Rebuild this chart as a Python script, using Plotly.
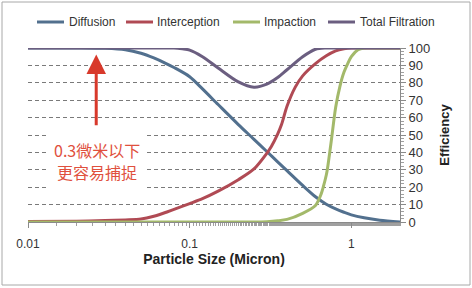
import plotly.graph_objects as go

# Particle size (micron)
size_d = [0.01, 0.02, 0.03, 0.04, 0.05, 0.06, 0.07, 0.08, 0.1, 0.12, 0.15, 0.2, 0.25, 0.3,
          0.35, 0.4, 0.5, 0.6, 0.7, 0.8, 0.9, 1.0, 1.2, 1.5, 2.0]
diffusion = [100, 100, 99.8, 99, 97, 94.3, 91.5, 88.8, 83.5, 76.5, 67.5, 56, 47.5, 40.5,
             34.6, 29.5, 21, 14.5, 10.2, 7.5, 5.6, 4.1, 2.4, 1.0, 0]

size_i = [0.01, 0.02, 0.03, 0.04, 0.05, 0.06, 0.07, 0.08, 0.1, 0.12, 0.15, 0.2, 0.25, 0.3,
          0.32, 0.35, 0.37, 0.4, 0.45, 0.5, 0.6, 0.7, 0.8, 0.9, 1.0, 1.2, 1.5, 2.0]
interception = [0.3, 0.5, 0.8, 1.2, 1.7, 3.3, 5.3, 7.3, 10.6, 13.4, 17.7, 24.3, 30.5, 39.5,
                43.4, 50.5, 56, 66.5, 77.5, 84, 91, 95.5, 98.3, 99.5, 100, 100, 100, 100]

size_m = [0.01, 0.05, 0.1, 0.2, 0.25, 0.3, 0.35, 0.4, 0.5, 0.6, 0.65, 0.67, 0.7, 0.71, 0.75,
          0.8, 0.85, 0.9, 0.95, 1.0, 1.1, 1.2, 1.5, 2.0]
impaction = [0, 0, 0, 0, 0, 0.2, 0.7, 1.5, 5, 9.5, 16, 20, 27, 30, 46,
             66, 78, 86, 91, 95, 99, 100, 100, 100]

size_t = [0.01, 0.02, 0.04, 0.06, 0.08, 0.09, 0.1, 0.12, 0.15, 0.2, 0.25, 0.3, 0.35, 0.4,
          0.5, 0.6, 0.7, 0.8, 1.0, 1.5, 2.0]
total = [100, 100, 100, 100, 100, 99.5, 98.8, 95, 88.5, 80.5, 77.5, 79.2, 83, 87.5,
         95, 99.3, 100, 100, 100, 100, 100]

y_ticks = [0, 10, 20, 30, 40, 50, 60, 70, 80, 90, 100]
x_ticks = [0.01, 0.1, 1]
x_ticklabels = ["0.01", "0.1", "1"]
note_lines = ["0.3微米以下", "更容易捕捉"]

series = [
    ("Diffusion", size_d, diffusion, "#52708e"),
    ("Interception", size_i, interception, "#b04a54"),
    ("Impaction", size_m, impaction, "#a3b96a"),
    ("Total Filtration", size_t, total, "#6b5e80"),
]

# layout geometry (pixels)
W, H = 472, 288
ML, MR, MT, MB = 28, 72, 48, 66
PW, PH = W - ML - MR, H - MT - MB


def px(x):
    return (x - ML) / PW


def py(y):
    return (H - MB - y) / PH


fig = go.Figure()
for name, xs, ys, col in series:
    fig.add_trace(go.Scatter(x=xs, y=ys, name=name, mode="lines", showlegend=False,
                             line=dict(color=col, width=3, shape="spline", smoothing=0.8)))

fig.update_layout(
    width=W, height=H,
    margin=dict(l=ML, r=MR, t=MT, b=MB, autoexpand=False),
    paper_bgcolor="white", plot_bgcolor="white",
    font=dict(family="Liberation Sans, Arial, sans-serif", size=12, color="#333333"),
    showlegend=False,
)

fig.update_xaxes(
    type="log", range=[-2, 0.301],
    tickvals=x_ticks, ticktext=x_ticklabels,
    showgrid=False, zeroline=False,
    showline=True, linecolor="#8a8a8a", linewidth=1,
    ticks="outside", ticklen=5, tickcolor="#8a8a8a",
    minor=dict(ticks="outside", ticklen=3, tickcolor="#a0a0a0", showgrid=False),
    tickfont=dict(size=12, color="#333333"),
    ticklabelstandoff=6,
    title=dict(text="<b>Particle Size (Micron)</b>", font=dict(size=14, color="#222222"), standoff=2),
)

fig.update_yaxes(
    range=[0, 100], side="right",
    tickvals=y_ticks,
    showgrid=True, gridcolor="#7a7a7a", griddash="4px,3px", gridwidth=1,
    zeroline=False,
    showline=True, linecolor="#8a8a8a", linewidth=1,
    ticks="outside", ticklen=5, tickcolor="#8a8a8a",
    minor=dict(ticks="outside", ticklen=3, dtick=2, tickcolor="#a0a0a0", showgrid=False),
    tickfont=dict(size=13, color="#333333"),
    title=dict(text="<b>Efficiency</b>", font=dict(size=13, color="#222222"), standoff=10),
)

# legend (drawn at top)
legend_pos = [(37, 67), (126, 155), (233, 262), (328, 358)]
for (name, _, _, col), (lx, tx) in zip(series, legend_pos):
    fig.add_shape(type="line", xref="paper", yref="paper",
                  x0=px(lx), x1=px(lx + 27), y0=py(22), y1=py(22),
                  line=dict(color=col, width=3))
    fig.add_annotation(x=px(tx), y=py(22), xref="paper", yref="paper",
                       text=name, showarrow=False, xanchor="left", yanchor="middle",
                       font=dict(size=12, color="#333333"))

# white box behind the note
fig.add_shape(type="rect", xref="paper", yref="paper",
              x0=px(46), x1=px(147), y0=py(194), y1=py(128),
              fillcolor="white", line=dict(width=0), layer="above")

# red arrow
fig.add_annotation(
    x=-1.578, y=96.3, xref="x", yref="y",
    ax=-1.578, ay=54.8, axref="x", ayref="y",
    showarrow=True, arrowhead=2, arrowsize=1.3, arrowwidth=3,
    arrowcolor="#d8392b", text="",
)
# red note text, two lines
for line, ypix in zip(note_lines, [150, 172]):
    fig.add_annotation(
        x=px(97), y=py(ypix), xref="paper", yref="paper",
        text=line, showarrow=False, xanchor="center", yanchor="middle",
        font=dict(family="Noto Sans CJK SC", size=16, color="#e0503d"),
    )

# outer border
fig.add_shape(type="rect", xref="paper", yref="paper",
              x0=px(2), x1=px(470), y0=py(285), y1=py(2),
              line=dict(color="#a8a8a8", width=1), layer="below")

fig.write_html("out.html")
